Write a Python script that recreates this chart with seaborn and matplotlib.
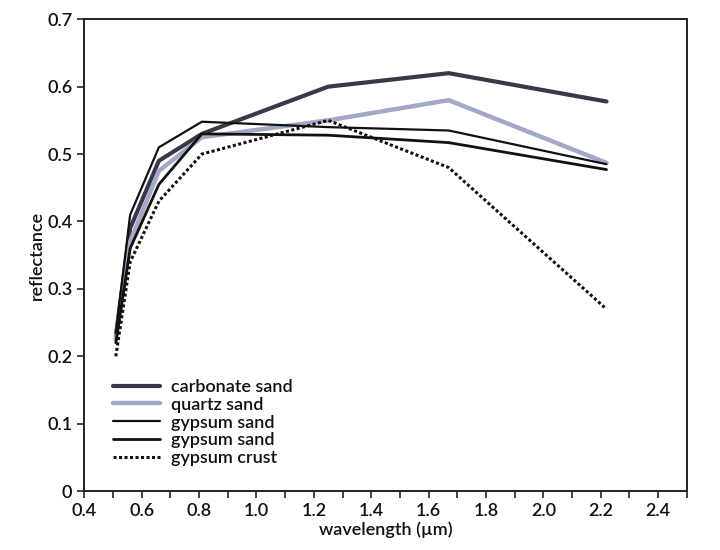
import matplotlib
matplotlib.use("Agg")
import matplotlib.pyplot as plt
import seaborn as sns
import pandas as pd
import numpy as np

wavelength = [0.51, 0.56, 0.66, 0.81, 1.25, 1.67, 2.22]
carbonate_sand = [0.23, 0.39, 0.49, 0.53, 0.60, 0.62, 0.578]
quartz_sand = [0.225, 0.37, 0.475, 0.525, 0.55, 0.58, 0.487]
gypsum_sand_1 = [0.235, 0.41, 0.51, 0.548, 0.54, 0.535, 0.485]
gypsum_sand_2 = [0.22, 0.36, 0.455, 0.53, 0.528, 0.517, 0.477]
gypsum_crust = [0.20, 0.34, 0.43, 0.50, 0.55, 0.48, 0.27]
labels = ["carbonate sand", "quartz sand", "gypsum sand", "gypsum sand", "gypsum crust"]

sns.set_theme(style="ticks")
plt.rcParams['font.family'] = ['Lato', 'DejaVu Sans']
plt.rcParams['font.weight'] = 'semibold'
plt.rcParams['axes.labelweight'] = 'semibold'
plt.rcParams['text.color'] = '#111111'
plt.rcParams['xtick.color'] = '#111111'
plt.rcParams['ytick.color'] = '#111111'
plt.rcParams['axes.labelcolor'] = '#111111'

fig = plt.figure(figsize=(7.2, 5.5), dpi=100)
ax = fig.add_axes([0.117, 0.107, 0.837, 0.858])

series = [carbonate_sand, quartz_sand, gypsum_sand_1, gypsum_sand_2, gypsum_crust]
styles = [
    dict(color="#383848", linewidth=3.0, linestyle="-"),
    dict(color="#a3a8c4", linewidth=3.2, linestyle="-"),
    dict(color="#111111", linewidth=1.6, linestyle="-"),
    dict(color="#111111", linewidth=2.0, linestyle="-"),
    dict(color="#111111", linewidth=2.2, linestyle=(0, (1, 0.8))),
]
for vals, lab, st in zip(series, labels, styles):
    df = pd.DataFrame({"wavelength": wavelength, "reflectance": vals})
    sns.lineplot(data=df, x="wavelength", y="reflectance", ax=ax, label=lab, **st)

ax.set_xlim(0.4, 2.5)
ax.set_ylim(0, 0.7)
ax.set_xticks(np.arange(0.4, 2.41, 0.2))
ax.set_xticklabels([f"{v:.1f}" for v in np.arange(0.4, 2.41, 0.2)])
ax.set_xticks(np.arange(0.5, 2.51, 0.2), minor=True)
ax.set_yticks(np.arange(0, 0.71, 0.1))
ax.set_yticklabels(["0"] + [f"{v:.1f}" for v in np.arange(0.1, 0.71, 0.1)])
ax.tick_params(axis="both", which="both", direction="out", length=5, width=1.2, color="#222222", labelsize=13)
for s in ax.spines.values():
    s.set_color("#222222")
    s.set_linewidth(1.4)
ax.set_xlabel("wavelength (µm)", fontsize=13, labelpad=2)
ax.set_ylabel("reflectance", fontsize=13, labelpad=2)

leg = ax.legend(loc="lower left", bbox_to_anchor=(0.03, 0.03), frameon=False, fontsize=13,
                handlelength=2.6, labelspacing=0.1, handletextpad=0.6, borderaxespad=0.2)

fig.savefig("out.png", dpi=100, facecolor="white")
